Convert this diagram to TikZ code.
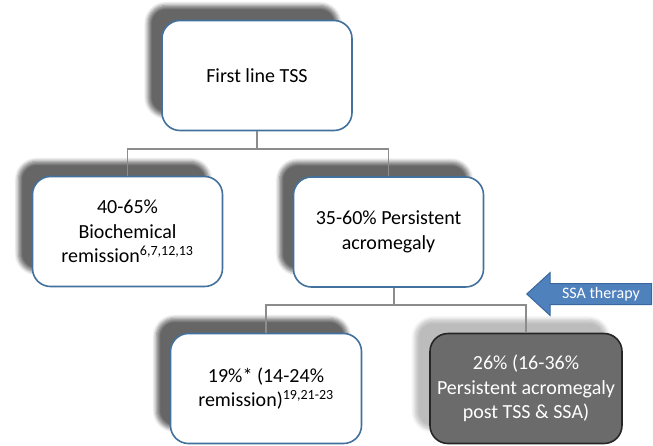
\documentclass[tikz,border=0pt]{standalone}
\usepackage{fontspec}
\setmainfont{Carlito}
\usetikzlibrary{shapes.arrows,shadows.blur}
\definecolor{boxline}{HTML}{41719C}
\definecolor{linkgray}{HTML}{8C8C8C}
\definecolor{arrowblue}{HTML}{4F81BD}
\definecolor{arrowline}{HTML}{3A679E}
\definecolor{darkfill}{HTML}{6B6B6B}
\frenchspacing
\begin{document}
\begin{tikzpicture}[x=1pt,y=-1pt,
    stagebox/.style={draw=boxline,line width=1.6pt,fill=white,rounded corners=18pt,
      minimum width=190pt,minimum height=110pt,align=center,
      font=\fontsize{20}{24.5}\selectfont,
      blur shadow={shadow xshift=-14pt,shadow yshift=15pt,shadow opacity=60,
        shadow blur radius=4pt,shadow blur steps=6}},
    outcomebox/.style={stagebox,draw=black!85,fill=darkfill,text=white,
      blur shadow={shadow xshift=-15pt,shadow yshift=14pt,shadow opacity=14,
        shadow blur radius=4pt,shadow blur steps=6}},
    link/.style={draw=linkgray,line width=1.5pt}]
  \useasboundingbox (0,0) rectangle (653,445);

  \node[stagebox] (tss) at (257,75.5) {First line TSS};
  \node[stagebox] (remission) at (127.5,231.5) {40-65\%\\Biochemical\\remission\textsuperscript{6,7,12,13}};
  \node[stagebox] (persistent) at (388.5,232) {35-60\% Persistent\\acromegaly};
  \node[stagebox,minimum width=191pt] (ssaremission) at (266,388.5) {19\%* (14-24\%\\remission)\textsuperscript{19,21-23}};
  \node[outcomebox,minimum width=192pt] (postssa) at (526,388.5) {26\% (16-36\%\\Persistent acromegaly\\post TSS \& SSA)};

  % SSA arrow
  \node[single arrow,shape border rotate=180,fill=arrowblue,draw=arrowline,line width=1pt,
    minimum height=125pt,single arrow head extend=11pt,single arrow tip angle=85,
    inner xsep=2pt,inner ysep=2pt,text height=12pt,text depth=4pt,text=white,
    font=\fontsize{16}{18}\selectfont,anchor=tip] (ssa) at (526,294) {\hspace{12pt}SSA therapy};

  % tree links
  \coordinate (split1) at (257,149);
  \coordinate (split2) at (394,305);
  \draw[link] (tss.south) -- (split1) -| (remission.north);
  \draw[link] (split1) -| (persistent.north);
  \draw[link] (persistent.south -| split2) -- (split2) -| (ssaremission.north);
  \draw[link] (split2) -| (postssa.north);
\end{tikzpicture}
\end{document}
